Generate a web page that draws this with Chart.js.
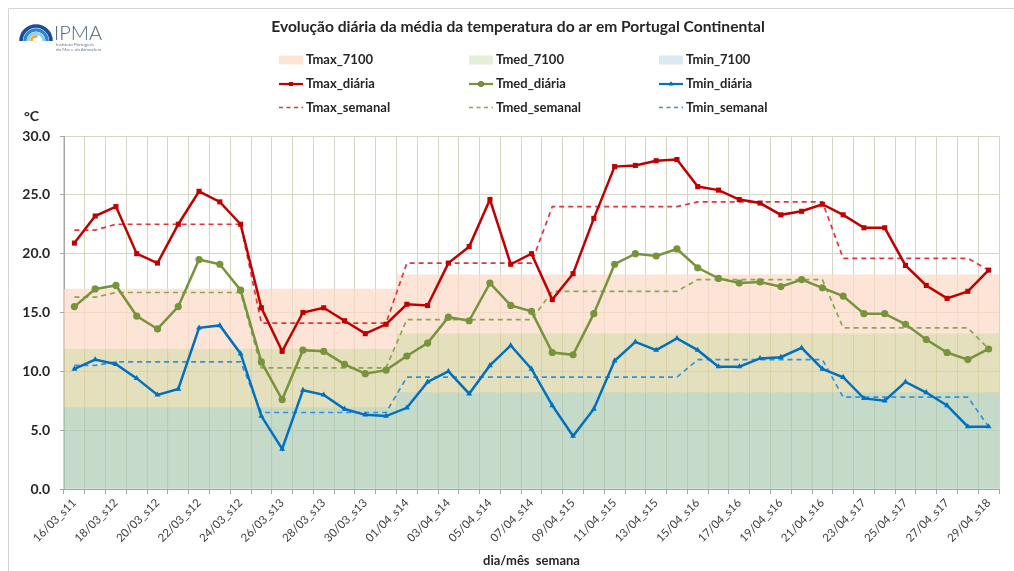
<!DOCTYPE html>
<html lang="pt">
<head>
<meta charset="utf-8">
<title>Evolução diária da média da temperatura do ar em Portugal Continental</title>
<script src="https://cdn.jsdelivr.net/npm/chart.js@4.4.1/dist/chart.umd.min.js"></script>
<style>
  html, body { margin: 0; padding: 0; background: #fff; }
  #wrap { position: relative; width: 1014px; height: 571px; }
</style>
</head>
<body>
<div id="wrap"><canvas id="tempChart" width="1014" height="571"></canvas></div>
<script>
// Dias (categoria do eixo x)
const dias = [
    '16/03_s11', '17/03_s11', '18/03_s12', '19/03_s12', '20/03_s12', '21/03_s12', '22/03_s12', '23/03_s12',
    '24/03_s12', '25/03_s13', '26/03_s13', '27/03_s13', '28/03_s13', '29/03_s13', '30/03_s13', '31/03_s13',
    '01/04_s14', '02/04_s14', '03/04_s14', '04/04_s14', '05/04_s14', '06/04_s14', '07/04_s14', '08/04_s15',
    '09/04_s15', '10/04_s15', '11/04_s15', '12/04_s15', '13/04_s15', '14/04_s15', '15/04_s16', '16/04_s16',
    '17/04_s16', '18/04_s16', '19/04_s16', '20/04_s16', '21/04_s16', '22/04_s17', '23/04_s17', '24/04_s17',
    '25/04_s17', '26/04_s17', '27/04_s17', '28/04_s17', '29/04_s18'
];

// Valores diários
const tmaxDiaria = [20.9, 23.2, 24.0, 20.0, 19.2, 22.5, 25.3, 24.4, 22.5, 15.4, 11.7, 15.0, 15.4, 14.3, 13.2, 14.0,
    15.7, 15.6, 19.2, 20.6, 24.6, 19.1, 20.0, 16.1, 18.3, 23.0, 27.4, 27.5, 27.9, 28.0, 25.7, 25.4,
    24.6, 24.3, 23.3, 23.6, 24.2, 23.3, 22.2, 22.2, 19.0, 17.3, 16.2, 16.8, 18.6];
const tmedDiaria = [15.5, 17.0, 17.3, 14.7, 13.6, 15.5, 19.5, 19.1, 16.9, 10.8, 7.6, 11.8, 11.7, 10.6, 9.8, 10.1,
    11.3, 12.4, 14.6, 14.3, 17.5, 15.6, 15.1, 11.6, 11.4, 14.9, 19.1, 20.0, 19.8, 20.4, 18.8, 17.9,
    17.5, 17.6, 17.2, 17.8, 17.1, 16.4, 14.9, 14.9, 14.0, 12.7, 11.6, 11.0, 11.9];
const tminDiaria = [10.2, 11.0, 10.6, 9.4, 8.0, 8.5, 13.7, 13.9, 11.5, 6.2, 3.4, 8.4, 8.0, 6.8, 6.3, 6.2,
    6.9, 9.1, 10.0, 8.1, 10.5, 12.2, 10.2, 7.1, 4.5, 6.8, 10.9, 12.5, 11.8, 12.8, 11.8, 10.4,
    10.4, 11.1, 11.2, 12.0, 10.2, 9.5, 7.7, 7.5, 9.1, 8.2, 7.1, 5.3, 5.3];

// Médias semanais
const tmaxSemanal = [22.0, 22.0, 22.5, 22.5, 22.5, 22.5, 22.5, 22.5, 22.5, 14.1, 14.1, 14.1, 14.1, 14.1, 14.1, 14.1,
    19.2, 19.2, 19.2, 19.2, 19.2, 19.2, 19.2, 24.0, 24.0, 24.0, 24.0, 24.0, 24.0, 24.0, 24.4, 24.4,
    24.4, 24.4, 24.4, 24.4, 24.4, 19.6, 19.6, 19.6, 19.6, 19.6, 19.6, 19.6, 18.6];
const tmedSemanal = [16.3, 16.3, 16.7, 16.7, 16.7, 16.7, 16.7, 16.7, 16.7, 10.3, 10.3, 10.3, 10.3, 10.3, 10.3, 10.3,
    14.4, 14.4, 14.4, 14.4, 14.4, 14.4, 14.4, 16.8, 16.8, 16.8, 16.8, 16.8, 16.8, 16.8, 17.8, 17.8,
    17.8, 17.8, 17.8, 17.8, 17.8, 13.7, 13.7, 13.7, 13.7, 13.7, 13.7, 13.7, 11.9];
const tminSemanal = [10.5, 10.5, 10.8, 10.8, 10.8, 10.8, 10.8, 10.8, 10.8, 6.5, 6.5, 6.5, 6.5, 6.5, 6.5, 6.5,
    9.5, 9.5, 9.5, 9.5, 9.5, 9.5, 9.5, 9.5, 9.5, 9.5, 9.5, 9.5, 9.5, 9.5, 11.0, 11.0,
    11.0, 11.0, 11.0, 11.0, 11.0, 7.8, 7.8, 7.8, 7.8, 7.8, 7.8, 7.8, 5.3];

// Normais climatológicas 1971-2000 (março / abril)
const tmax7100 = [17.0, 17.0, 17.0, 17.0, 17.0, 17.0, 17.0, 17.0, 17.0, 17.0, 17.0, 17.0, 17.0, 17.0, 17.0, 17.0,
    18.2, 18.2, 18.2, 18.2, 18.2, 18.2, 18.2, 18.2, 18.2, 18.2, 18.2, 18.2, 18.2, 18.2, 18.2, 18.2,
    18.2, 18.2, 18.2, 18.2, 18.2, 18.2, 18.2, 18.2, 18.2, 18.2, 18.2, 18.2, 18.2];
const tmed7100 = [11.9, 11.9, 11.9, 11.9, 11.9, 11.9, 11.9, 11.9, 11.9, 11.9, 11.9, 11.9, 11.9, 11.9, 11.9, 11.9,
    13.2, 13.2, 13.2, 13.2, 13.2, 13.2, 13.2, 13.2, 13.2, 13.2, 13.2, 13.2, 13.2, 13.2, 13.2, 13.2,
    13.2, 13.2, 13.2, 13.2, 13.2, 13.2, 13.2, 13.2, 13.2, 13.2, 13.2, 13.2, 13.2];
const tmin7100 = [6.9, 6.9, 6.9, 6.9, 6.9, 6.9, 6.9, 6.9, 6.9, 6.9, 6.9, 6.9, 6.9, 6.9, 6.9, 6.9,
    8.2, 8.2, 8.2, 8.2, 8.2, 8.2, 8.2, 8.2, 8.2, 8.2, 8.2, 8.2, 8.2, 8.2, 8.2, 8.2,
    8.2, 8.2, 8.2, 8.2, 8.2, 8.2, 8.2, 8.2, 8.2, 8.2, 8.2, 8.2, 8.2];

const yTicks = [0, 5, 10, 15, 20, 25, 30];

const FONT = 'Lato, "Open Sans", sans-serif';
const TEXT = '#262626';

// bandas flutuantes: cada normal vai da normal de baixo até ao seu valor
const bandaMin = tmin7100.map(v => [0, v]);
const bandaMed = tmed7100.map((v, i) => [tmin7100[i], v]);
const bandaMax = tmax7100.map((v, i) => [tmed7100[i], v]);

function banda(label, data, fill, legendColor) {
    return {
        type: 'bar', label, data,
        backgroundColor: fill, legendColor,
        borderWidth: 0, barPercentage: 1, categoryPercentage: 1,
        grouped: false, order: 10
    };
}

function diaria(label, data, color, style, radius) {
    return {
        type: 'line', label, data,
        borderColor: color, backgroundColor: color,
        borderWidth: 2.5, pointStyle: style, pointRadius: radius,
        pointBorderWidth: 0, tension: 0, order: 1
    };
}

function semanal(label, data, color) {
    return {
        type: 'line', label, data,
        borderColor: color, borderWidth: 1.7, borderDash: [5, 4],
        pointRadius: 0, tension: 0, order: 2
    };
}

const decoracao = {
    id: 'decoracao',
    afterDraw(chart) {
        const ctx = chart.ctx;
        ctx.save();

        // moldura
        ctx.strokeStyle = '#d4d4d4';
        ctx.lineWidth = 1;
        ctx.beginPath();
        ctx.moveTo(8.5, 571);
        ctx.lineTo(8.5, 8.5);
        ctx.lineTo(1014, 8.5);
        ctx.stroke();

        // logótipo IPMA
        const cx = 36, cy = 41;
        [[15, '#1c4e9a', 3.6], [11.2, '#2f86cf', 3.2], [7.8, '#8cd0ee', 3]].forEach(([r, c, w]) => {
            ctx.strokeStyle = c; ctx.lineWidth = w;
            ctx.beginPath(); ctx.arc(cx, cy, r, Math.PI, 2 * Math.PI); ctx.stroke();
        });
        ctx.strokeStyle = '#f6a31b'; ctx.lineWidth = 2.6;
        ctx.beginPath(); ctx.arc(cx, cy, 4.6, Math.PI, 1.6 * Math.PI); ctx.stroke();
        ctx.fillStyle = '#4b6484';
        ctx.font = '300 20px ' + FONT;
        ctx.textBaseline = 'alphabetic';
        ctx.textAlign = 'left';
        ctx.fillText('IPMA', 54, 40);
        ctx.font = '4.5px ' + FONT;
        ctx.fillStyle = '#6a7b90';
        ctx.fillText('Instituto Português', 56, 46);
        ctx.fillText('do Mar e da Atmosfera', 56, 50.5);

        // título
        ctx.fillStyle = TEXT;
        ctx.font = 'bold 15.6px ' + FONT;
        ctx.textAlign = 'center';
        ctx.textBaseline = 'middle';
        ctx.fillText('Evolução diária da média da temperatura do ar em Portugal Continental', 518, 27);

        // unidade
        ctx.textAlign = 'left';
        ctx.font = 'bold 14px ' + FONT;
        ctx.fillText('°C', 24, 116);

        // legenda 3 x 3
        const colX = [279, 469, 659];
        const rowY = [60, 84, 107.5];
        ctx.font = 'bold 13px ' + FONT;
        chart.data.datasets.forEach((ds, i) => {
            const x = colX[i % 3];
            const y = rowY[Math.floor(i / 3)];
            if (ds.type === 'bar') {
                ctx.fillStyle = ds.legendColor;
                ctx.fillRect(x, y - 4.5, 24, 9);
            } else {
                ctx.strokeStyle = ds.borderColor;
                ctx.lineWidth = ds.borderDash ? 1.6 : 2.2;
                ctx.setLineDash(ds.borderDash ? [4, 3.5] : []);
                ctx.beginPath(); ctx.moveTo(x, y); ctx.lineTo(x + 24, y); ctx.stroke();
                ctx.setLineDash([]);
                if (ds.pointRadius) {
                    Chart.helpers.drawPoint(ctx, {
                        pointStyle: ds.pointStyle, radius: ds.pointRadius - 0.8,
                        borderWidth: 0, rotation: 0
                    }, x + 12, y);
                    ctx.fillStyle = ds.borderColor;
                    ctx.fill();
                }
            }
            ctx.fillStyle = TEXT;
            ctx.textBaseline = 'middle';
            ctx.fillText(ds.label, x + 27, y);
        });
        ctx.restore();
    }
};

new Chart(document.getElementById('tempChart'), {
    data: {
        labels: dias,
        datasets: [
            banda('Tmax_7100', bandaMax, 'rgba(251,218,196,0.7)', '#fde5d5'),
            banda('Tmed_7100', bandaMed, 'rgba(216,209,159,0.7)', '#e5eed9'),
            banda('Tmin_7100', bandaMin, 'rgba(172,203,178,0.7)', '#d9eaf2'),
            diaria('Tmax_diária', tmaxDiaria, '#c00000', 'rect', 3.6),
            diaria('Tmed_diária', tmedDiaria, '#77933c', 'circle', 3.6),
            diaria('Tmin_diária', tminDiaria, '#0070c0', 'triangle', 3.4),
            semanal('Tmax_semanal', tmaxSemanal, '#e0353d'),
            semanal('Tmed_semanal', tmedSemanal, '#8aa653'),
            semanal('Tmin_semanal', tminSemanal, '#3791d6')
        ]
    },
    options: {
        responsive: false,
        animation: false,
        layout: { padding: { top: 136, right: 15, left: 0, bottom: 0 } },
        plugins: {
            legend: { display: false },
            title: { display: false },
            tooltip: { enabled: false }
        },
        scales: {
            x: {
                type: 'category',
                offset: true,
                grid: {
                    offset: true, color: '#d6d6c4', borderDash: [2, 2],
                    tickColor: '#a6a6a6', tickLength: 5, tickBorderDash: []
                },
                border: { color: '#a6a6a6', width: 1 },
                ticks: {
                    autoSkip: false, minRotation: 45, maxRotation: 45,
                    color: '#404040', font: { family: FONT, size: 11.5 }, padding: 2,
                    callback: function (val, idx) { return idx % 2 === 0 ? this.getLabelForValue(val) : ''; }
                },
                title: {
                    display: true, text: 'dia/mês  semana', color: TEXT,
                    font: { family: FONT, size: 13, weight: 'bold' }, padding: { top: 0, bottom: 2 }
                },
                afterFit(scale) { scale.height = 82; }
            },
            y: {
                min: 0, max: 30,
                afterBuildTicks(scale) { scale.ticks = yTicks.map(v => ({ value: v })); },
                grid: {
                    color: '#d6d6c4', borderDash: [2, 2],
                    tickColor: '#a6a6a6', tickLength: 4, tickBorderDash: []
                },
                border: { color: '#a6a6a6', width: 1 },
                ticks: {
                    color: TEXT, padding: 10,
                    font: { family: FONT, size: 14, weight: 'bold' },
                    callback: v => v.toFixed(1)
                },
                afterFit(scale) { scale.width = 64; }
            }
        }
    },
    plugins: [decoracao]
});
</script>
</body>
</html>
